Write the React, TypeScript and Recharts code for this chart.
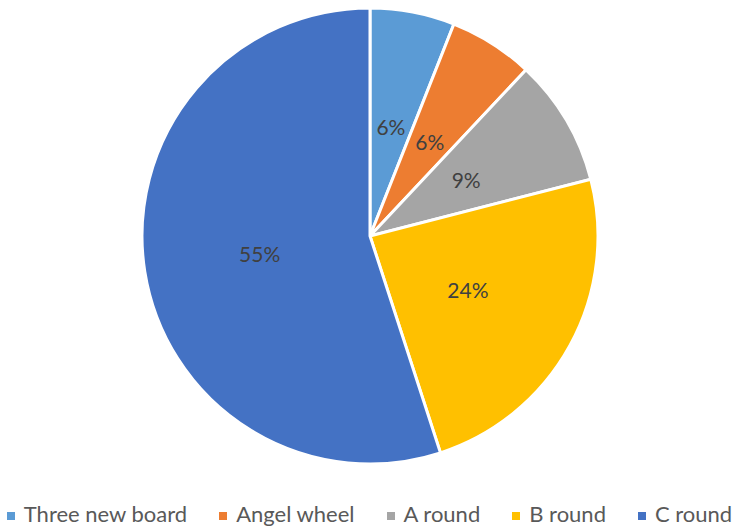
import React from 'react';
import { PieChart, Pie, Cell } from 'recharts';

const CATEGORIES = ['Three new board', 'Angel wheel', 'A round', 'B round', 'C round'];
const SHARES = [6, 6, 9, 24, 55];
const COLORS = ['#5B9BD5', '#ED7D31', '#A5A5A5', '#FFC000', '#4472C4'];

const data = CATEGORIES.map((name, i) => ({ name, value: SHARES[i] }));

const RADIAN = Math.PI / 180;

const renderLabel = (props: any) => {
  const { cx, cy, midAngle, outerRadius, value } = props;
  const r = outerRadius * 0.49;
  const x = cx + r * Math.cos(-midAngle * RADIAN);
  const y = cy + r * Math.sin(-midAngle * RADIAN);
  return (
    <text
      x={x}
      y={y}
      fill="#404040"
      fontSize={21}
      fontFamily="Lato, sans-serif"
      textAnchor="middle"
      dominantBaseline="central"
    >
      {`${value}%`}
    </text>
  );
};

const ChartLegend = () => (
  <div
    style={{
      position: 'absolute',
      left: 0,
      top: 501,
      width: 739,
      display: 'flex',
      justifyContent: 'center',
      alignItems: 'center',
      gap: 32,
      fontFamily: 'Lato, sans-serif',
      fontSize: 22,
      lineHeight: 1.2,
      color: '#595959',
      whiteSpace: 'nowrap',
    }}
  >
    {CATEGORIES.map((name, i) => (
      <span key={name} style={{ display: 'flex', alignItems: 'center' }}>
        <span
          style={{
            width: 8,
            height: 8,
            background: COLORS[i],
            display: 'inline-block',
            marginRight: 9,
            marginTop: 3,
          }}
        />
        {name}
      </span>
    ))}
  </div>
);

export default function App() {
  return (
    <div style={{ position: 'absolute', left: 0, top: 0, width: 739, height: 529, background: '#fff' }}>
      <PieChart width={739} height={529} margin={{ top: 0, right: 0, bottom: 0, left: 0 }}>
        <Pie
          data={data}
          dataKey="value"
          nameKey="name"
          cx={370}
          cy={236}
          outerRadius={228}
          startAngle={90}
          endAngle={-270}
          stroke="#ffffff"
          strokeWidth={3}
          label={renderLabel}
          labelLine={false}
          isAnimationActive={false}
        >
          {data.map((entry, index) => (
            <Cell key={`cell-${index}`} fill={COLORS[index]} />
          ))}
        </Pie>
      </PieChart>
      <ChartLegend />
    </div>
  );
}
